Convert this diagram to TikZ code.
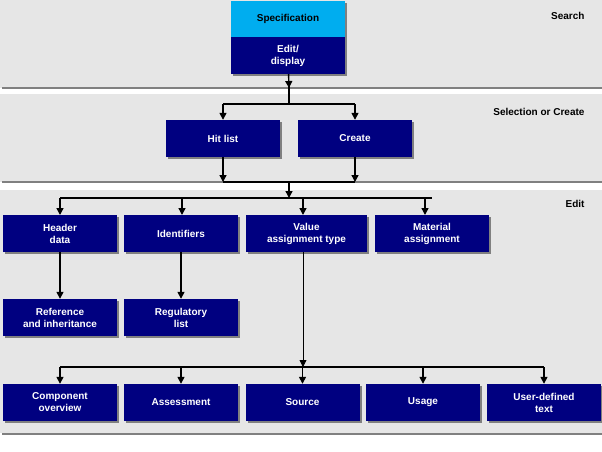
\documentclass[tikz,border=0pt]{standalone}
\usepackage{fontspec}
\setmainfont{Liberation Sans}
\usetikzlibrary{positioning,arrows.meta,shadows}
\definecolor{navy}{HTML}{000080}
\definecolor{band}{HTML}{E6E6E6}
\definecolor{rule}{HTML}{808080}
\tikzset{
  box/.style={draw=none,fill=navy,text=white,font=\bfseries\fontsize{10}{12}\selectfont,
    align=center,minimum width=114pt,minimum height=37pt,inner sep=1pt,
    drop shadow={shadow xshift=2pt,shadow yshift=-2pt,fill=rule,opacity=1}},
  arr/.style={line width=1.4pt,-{Triangle[length=7pt,width=7pt]}},
  ln/.style={line width=1.4pt},
  band label/.style={font=\bfseries\fontsize{10}{12}\selectfont,anchor=east}
}
\begin{document}
\begin{tikzpicture}[x=1pt,y=-1pt]
\useasboundingbox (0,0) rectangle (602,452);
%bands and separators
\fill[band] (0,0) rectangle (602,88);
\fill[band] (0,94) rectangle (602,182);
\fill[band] (0,190) rectangle (602,433);
\draw[rule,line width=1.5pt] (2,88) -- (602,88);
\draw[rule,line width=1.5pt] (2,182) -- (602,182);
\draw[rule,line width=1.5pt] (2,434) -- (602,434);
\node[band label] at (588,16) {Search};
\node[band label] at (588,112) {Selection or Create};
\node[band label] at (588,204) {Edit};

%Search
\node[box,fill=cyan,text=black,minimum height=36pt] (spec) at (288,19) {Specification};
\node[box,minimum height=37pt] (edit) at (288,55.5) {Edit/\\display};
%Selection or Create
\node[box] (hit) at (223,138.5) {Hit list};
\node[box] (create) at (355,138.5) {Create};
%Edit, first row
\node[box] (header) at (60,233.5) {Header\\data};
\node[box] (ident) at (181,233.5) {Identifiers};
\node[box,minimum width=121pt] (value) at (306.5,233.5) {Value\\assignment type};
\node[box] (material) at (432,233.5) {Material\\assignment};
%second row
\node[box] (refinh) at (60,317.5) {Reference\\and inheritance};
\node[box] (regul) at (181,317.5) {Regulatory\\list};
%third row
\node[box] (comp) at (60,402.5) {Component\\overview};
\node[box] (assess) at (181,402.5) {Assessment};
\node[box] (source) at (302.5,402.5) {Source};
\node[box] (usage) at (423,402.5) {Usage};
\node[box] (userdef) at (544,402.5) {User-defined\\text};

%connectors
\coordinate (b1) at (289,104);
\coordinate (b2) at (289,182);
\coordinate (b3) at (289,198);
\coordinate (b4) at (303,367);
\draw[arr] (edit) -- (b1 |- 0,88);
\draw[ln] (b1 |- 0,86) -- (b1);
\draw[ln] (hit.north |- b1) -- (create.north |- b1);
\draw[arr] (hit.north |- b1) -- (hit.north);
\draw[arr] (create.north |- b1) -- (create.north);
\draw[arr] (hit.south) -- (hit.south |- b2);
\draw[arr] (create.south) -- (create.south |- b2);
\draw[ln] (hit.south |- b2) -- (create.south |- b2);
\draw[arr] (b2) -- (b3);
\draw[ln] (header.north |- b3) -- (material.north |- b3);
\foreach \n/\xx in {header/60,ident/182,value/303,material/425}
  \draw[arr] (\xx,198) -- (\xx,215);
\draw[arr] (header) -- (refinh);
\draw[arr] (ident.south -| regul) -- (regul);
\draw[arr,line width=0.8pt] (value.south -| b4) -- (b4);
\draw[ln] (comp.north |- b4) -- (userdef.north |- b4);
\foreach \n in {comp,assess,source,usage,userdef}
  \draw[arr] (\n.north |- b4) -- (\n.north);
\end{tikzpicture}
\end{document}
